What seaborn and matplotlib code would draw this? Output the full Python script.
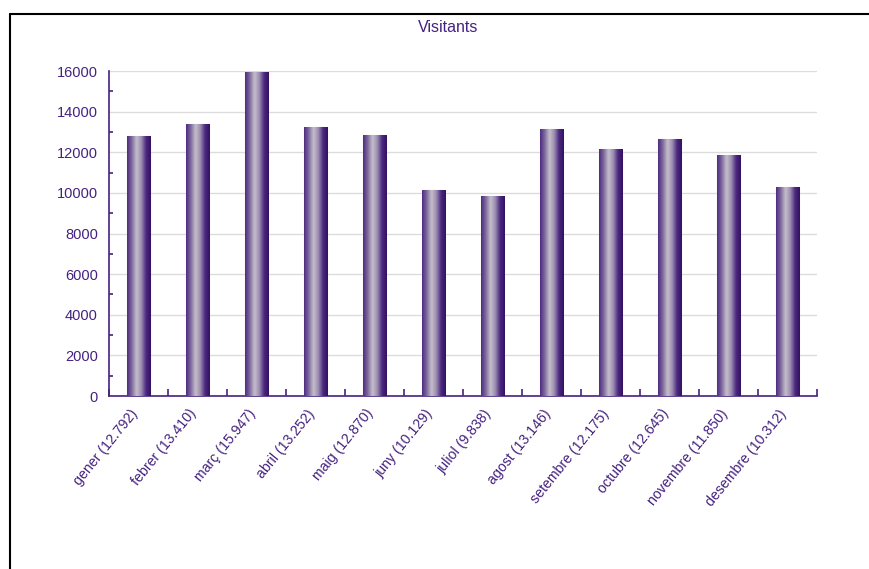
import numpy as np
import pandas as pd
import seaborn as sns
import matplotlib
matplotlib.use('Agg')
import matplotlib.pyplot as plt
from matplotlib.colors import LinearSegmentedColormap
from matplotlib.ticker import MultipleLocator
from matplotlib.lines import Line2D
from matplotlib.transforms import ScaledTranslation

# data
months = ['gener', 'febrer', 'març', 'abril', 'maig', 'juny', 'juliol',
          'agost', 'setembre', 'octubre', 'novembre', 'desembre']
visitors = [12792, 13410, 15947, 13252, 12870, 10129, 9838,
            13146, 12175, 12645, 11850, 10312]
labels = ['{} ({:,})'.format(m, v).replace(',', '.') for m, v in zip(months, visitors)]

purple = '#45217f'
sns.set_theme(style='white')
plt.rcParams['font.family'] = ['Liberation Sans', 'DejaVu Sans']

df = pd.DataFrame({'mes': labels, 'visitants': visitors})

fig = plt.figure(figsize=(8.7, 5.69), dpi=100)
ax = fig.add_axes([0.1253, 0.304, 0.8137, 0.571])

sns.barplot(data=df, x='mes', y='visitants', ax=ax, width=0.4,
            color='#4a2a80', edgecolor='#c8c8c8', linewidth=0.8, zorder=3)

# cylinder-like gradient on every bar
cmap = LinearSegmentedColormap.from_list(
    'cyl', ['#4d2a80', '#7e6a9e', '#c6c0cc', '#9c8cb0', '#4a2880', '#34105f'])
grad = np.linspace(0, 1, 256).reshape(1, -1)
for p in list(ax.patches):
    x0, y0 = p.get_x(), p.get_y()
    w, h = p.get_width(), p.get_height()
    im = ax.imshow(grad, cmap=cmap, aspect='auto', extent=[x0, x0 + w, y0, y0 + h],
                   zorder=3.5, interpolation='bicubic')
    im.set_clip_path(p)

ax.set_xlim(-0.5, len(months) - 0.5)
ax.set_ylim(0, 16000)
ax.yaxis.set_major_locator(MultipleLocator(2000))
ax.yaxis.set_minor_locator(MultipleLocator(1000))
ax.set_xticks(np.arange(-0.5, len(months), 1.0), minor=False)
ax.set_xticklabels([''] * (len(months) + 1))
ax.set_xticks(np.arange(len(months)), minor=True)
ax.set_xticklabels(labels, minor=True, rotation=51, ha='right', rotation_mode='anchor')

ax.grid(axis='y', which='major', color='#dcdcdc', linewidth=1, zorder=0)
ax.set_axisbelow(True)
ax.tick_params(axis='y', which='major', direction='in', length=5, width=1.2,
               color=purple, labelcolor=purple, labelsize=10.5, pad=8)
ax.tick_params(axis='y', which='minor', direction='in', length=3, width=1.2,
               color=purple, left=True)
ax.tick_params(axis='x', which='major', direction='in', length=5, width=1.2,
               color=purple, bottom=True)
ax.tick_params(axis='x', which='minor', length=0, labelcolor=purple,
               labelsize=10.2, pad=7)

shift = ScaledTranslation(-0.09, -0.01, fig.dpi_scale_trans)
for t in ax.get_xticklabels(minor=True):
    t.set_transform(t.get_transform() + shift)

for s in ['top', 'right']:
    ax.spines[s].set_visible(False)
for s in ['left', 'bottom']:
    ax.spines[s].set_color(purple)
    ax.spines[s].set_linewidth(1.2)

ax.set_xlabel('')
ax.set_ylabel('')
fig.text(0.515, 0.951, 'Visitants', ha='center', va='center', color=purple, fontsize=11.5)

# outer frame (top and left edges)
fig.add_artist(Line2D([0.011, 1.0], [0.976, 0.976], color='black', linewidth=1.5,
                      transform=fig.transFigure))
fig.add_artist(Line2D([0.011, 0.011], [0.0, 0.976], color='black', linewidth=1.5,
                      transform=fig.transFigure))

fig.savefig('out.png', dpi=100, facecolor='white')
